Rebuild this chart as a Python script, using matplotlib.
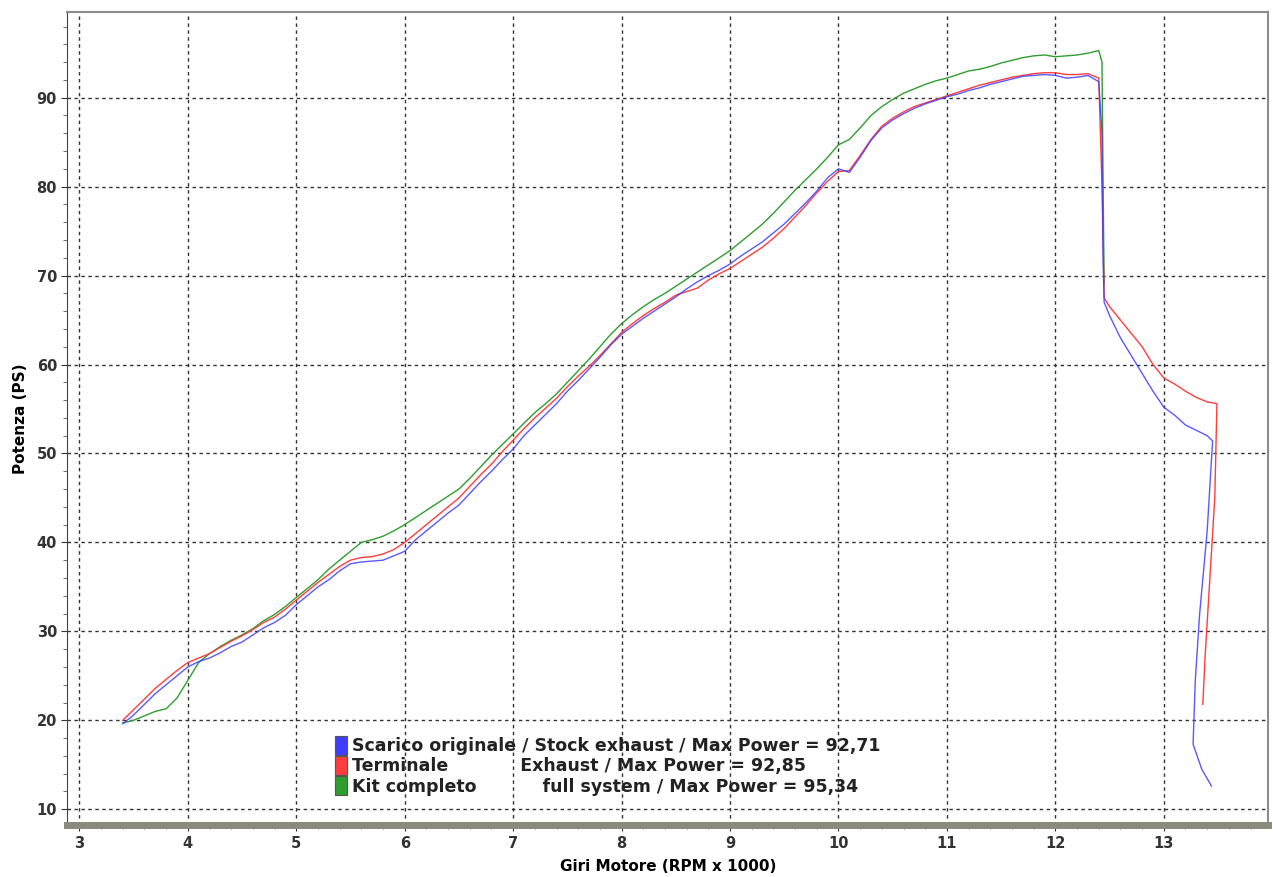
import matplotlib.pyplot as plt
from matplotlib.patches import Rectangle
from matplotlib.ticker import MultipleLocator

# rpm grid for the pull (x1000)
rpm = [3.4, 3.5, 3.6, 3.7, 3.8, 3.9, 4.0, 4.1, 4.2, 4.3, 4.4, 4.5, 4.6, 4.7, 4.8, 4.9,
       5.0, 5.1, 5.2, 5.3, 5.4, 5.5, 5.6, 5.7, 5.8, 5.9, 6.0, 6.1, 6.2, 6.3, 6.4, 6.5,
       6.6, 6.7, 6.8, 6.9, 7.0, 7.1, 7.2, 7.3, 7.4, 7.5, 7.6, 7.7, 7.8, 7.9, 8.0, 8.1,
       8.2, 8.3, 8.4, 8.5, 8.6, 8.7, 8.8, 8.9, 9.0, 9.1, 9.2, 9.3, 9.4, 9.5, 9.6, 9.7,
       9.8, 9.9, 10.0, 10.1, 10.2, 10.3, 10.4, 10.5, 10.6, 10.7, 10.8, 10.9, 11.0, 11.1,
       11.2, 11.3, 11.4, 11.5, 11.6, 11.7, 11.8, 11.9, 12.0, 12.1, 12.2, 12.3, 12.4]

stock = [19.6, 20.6, 21.8, 23.0, 24.0, 25.0, 26.0, 26.6, 27.0, 27.6, 28.3, 28.8, 29.6, 30.4, 31.0, 31.8,
         33.0, 34.0, 35.0, 35.8, 36.8, 37.6, 37.8, 37.9, 38.0, 38.5, 39.0, 40.3, 41.3, 42.3, 43.3, 44.2,
         45.5, 46.8, 48.0, 49.3, 50.5, 52.0, 53.2, 54.4, 55.6, 57.0, 58.2, 59.5, 60.8, 62.2, 63.4, 64.3,
         65.2, 66.0, 66.8, 67.6, 68.5, 69.3, 70.0, 70.6, 71.3, 72.2, 73.0, 73.8, 74.8, 75.8, 77.0, 78.2,
         79.5, 81.0, 82.0, 81.6, 83.3, 85.2, 86.6, 87.5, 88.2, 88.8, 89.3, 89.7, 90.1, 90.4,
         90.8, 91.1, 91.5, 91.8, 92.1, 92.4, 92.5, 92.6, 92.5, 92.2, 92.3, 92.5, 91.8]

terminale = [20.0, 21.2, 22.4, 23.6, 24.6, 25.6, 26.5, 27.0, 27.5, 28.2, 28.9, 29.5, 30.2, 31.0, 31.6, 32.5,
             33.5, 34.5, 35.5, 36.4, 37.3, 38.0, 38.3, 38.4, 38.7, 39.2, 40.0, 41.0, 42.0, 43.0, 44.0, 45.0,
             46.3, 47.6, 48.8, 50.2, 51.5, 52.8, 54.0, 55.1, 56.2, 57.5, 58.7, 59.8, 61.0, 62.3, 63.6, 64.6,
             65.5, 66.3, 67.0, 67.8, 68.2, 68.6, 69.5, 70.2, 70.8, 71.6, 72.4, 73.2, 74.2, 75.3, 76.6, 77.9,
             79.3, 80.6, 81.7, 81.8, 83.5, 85.3, 86.8, 87.7, 88.4, 89.0, 89.4, 89.8, 90.2, 90.6,
             91.0, 91.4, 91.7, 92.0, 92.3, 92.5, 92.7, 92.8, 92.8, 92.6, 92.6, 92.7, 92.2]

kit = [19.7, 20.0, 20.5, 21.0, 21.3, 22.5, 24.5, 26.5, 27.5, 28.3, 29.0, 29.6, 30.3, 31.2, 31.9, 32.8,
       33.8, 34.8, 35.8, 37.0, 38.0, 39.0, 40.0, 40.3, 40.7, 41.3, 42.0, 42.8, 43.6, 44.4, 45.2, 46.0,
       47.2, 48.5, 49.8, 51.0, 52.2, 53.4, 54.6, 55.6, 56.7, 58.0, 59.3, 60.6, 62.0, 63.4, 64.6, 65.6,
       66.5, 67.3, 68.0, 68.8, 69.6, 70.4, 71.2, 72.0, 72.8, 73.8, 74.8, 75.8, 77.0, 78.3, 79.6, 80.8,
       82.0, 83.3, 84.7, 85.3, 86.6, 88.0, 89.0, 89.8, 90.5, 91.0, 91.5, 91.9, 92.2, 92.6,
       93.0, 93.2, 93.5, 93.9, 94.2, 94.5, 94.7, 94.8, 94.6, 94.7, 94.8, 95.0, 95.3]

# rundown after the cut
stock_tail_rpm = [12.43, 12.44, 12.45, 12.5, 12.6, 12.7, 12.8, 12.9, 13.0, 13.1, 13.2, 13.3, 13.4, 13.45,
                  13.40, 13.33, 13.29, 13.27, 13.35, 13.44]
stock_tail = [86.0, 72.0, 67.0, 65.5, 63.0, 61.0, 59.0, 57.0, 55.2, 54.3, 53.2, 52.6, 52.0, 51.4,
              41.3, 31.9, 24.4, 17.3, 14.5, 12.6]
term_tail_rpm = [12.43, 12.45, 12.5, 12.6, 12.7, 12.8, 12.9, 13.0, 13.1, 13.2, 13.3, 13.4, 13.49,
                 13.47, 13.42, 13.38, 13.36]
term_tail = [80.0, 67.5, 66.5, 65.0, 63.5, 62.0, 60.0, 58.5, 57.8, 57.0, 56.3, 55.8, 55.6,
             45.0, 35.0, 27.0, 21.8]
kit_tail_rpm = [12.43, 12.44, 12.45]
kit_tail = [94.0, 80.0, 69.0]

labels = ['Scarico originale / Stock exhaust / Max Power = 92,71',
          'Terminale            Exhaust / Max Power = 92,85',
          'Kit completo           full system / Max Power = 95,34']
colors = ['#3d3dff', '#ff3d3d', '#2e9e2e']

fig = plt.figure(figsize=(12.73, 8.77), dpi=100)
ax = fig.add_axes([0.053, 0.059, 0.943, 0.927])

ax.plot(rpm + kit_tail_rpm, kit + kit_tail, color=colors[2], lw=1.0)
ax.plot(rpm + term_tail_rpm, terminale + term_tail, color=colors[1], lw=1.0)
ax.plot(rpm + stock_tail_rpm, stock + stock_tail, color=colors[0], lw=1.0, alpha=0.85)

ax.set_xlim(2.89, 13.96)
ax.set_ylim(8.2, 99.6)
ax.xaxis.set_major_locator(MultipleLocator(1))
ax.xaxis.set_minor_locator(MultipleLocator(0.2))
ax.yaxis.set_major_locator(MultipleLocator(10))
ax.yaxis.set_minor_locator(MultipleLocator(2))
ax.grid(True, which='major', color='#333333', lw=1.0, ls=(0, (2.5, 2.5)))

for s in ['top', 'right']:
    ax.spines[s].set_color('#8c8c8c')
    ax.spines[s].set_linewidth(1.5)
ax.spines['left'].set_color('#444444')
ax.spines['bottom'].set_color('#8a8a7e')
ax.spines['bottom'].set_linewidth(5)

ax.tick_params(axis='both', which='major', labelsize=10.5, colors='#333333', length=4)
ax.tick_params(axis='both', which='minor', length=3, colors='#555555')
for t in ax.get_xticklabels() + ax.get_yticklabels():
    t.set_fontweight('bold')
ax.set_xticks(range(3, 14))

ax.set_xlabel('Giri Motore (RPM x 1000)', fontsize=11, fontweight='bold', labelpad=6)
ax.set_ylabel('Potenza (PS)', fontsize=11, fontweight='bold', labelpad=6)

handles = [Rectangle((0, 0), 1, 1, facecolor=c, edgecolor='#555555', lw=0.8) for c in colors]
leg = ax.legend(handles, labels, loc='lower left', bbox_to_anchor=(0.217, 0.028), frameon=False,
                prop={'size': 12.5, 'weight': 'bold'}, handlelength=0.7, handleheight=1.3,
                handletextpad=0.3, labelspacing=0.05, borderaxespad=0)
for t in leg.get_texts():
    t.set_color('#222222')

fig.savefig('out.png', dpi=100)
